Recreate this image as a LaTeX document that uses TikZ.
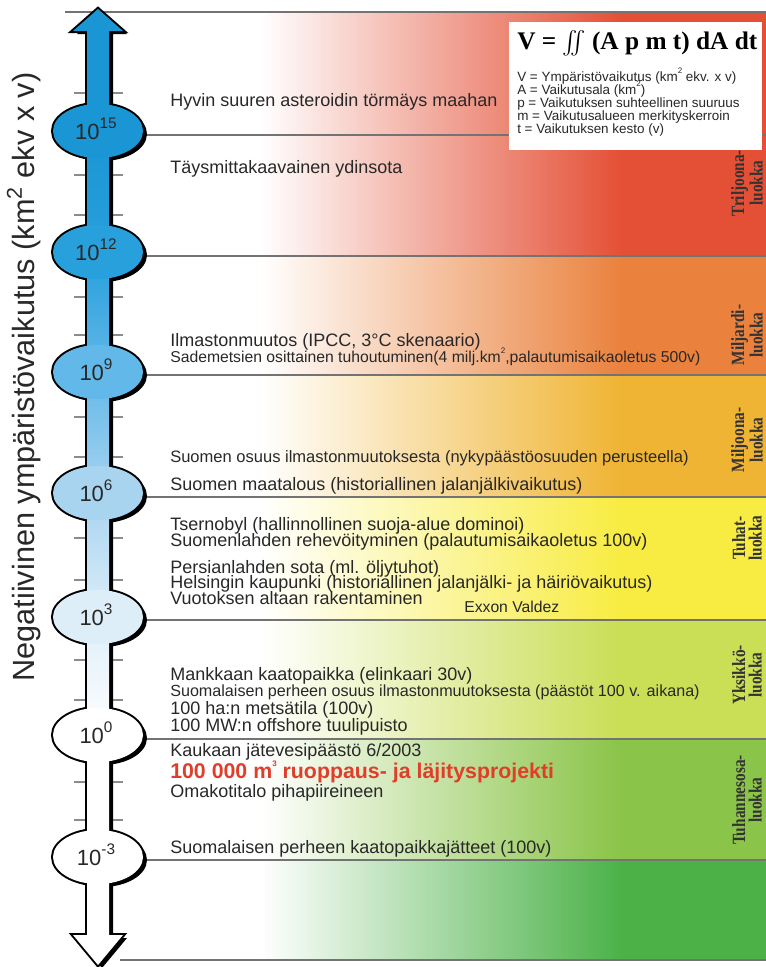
\documentclass[tikz,border=0pt]{standalone}
\usepackage{exscale}
\usepackage{fontspec}
\setmainfont{Liberation Sans}
\newfontfamily\romanfont{Liberation Serif}
\usepackage{graphicx}
\usepackage{tikz}

\definecolor{bandA}{RGB}{228,80,54}
\definecolor{bandB}{RGB}{234,130,62}
\definecolor{bandC}{RGB}{240,180,52}
\definecolor{bandD}{RGB}{248,236,66}
\definecolor{bandE}{RGB}{202,222,86}
\definecolor{bandF}{RGB}{138,196,72}
\definecolor{bandG}{RGB}{76,178,72}
\definecolor{arrowA}{RGB}{26,150,212}
\definecolor{arrowB}{RGB}{40,160,220}
\definecolor{arrowC}{RGB}{98,184,232}
\definecolor{arrowD}{RGB}{168,212,240}
\definecolor{arrowE}{RGB}{222,238,249}
\definecolor{textgray}{RGB}{40,40,40}
\definecolor{projred}{RGB}{224,62,42}

\pgfdeclareverticalshading{arrowfade}{100bp}{color(0bp)=(white); color(37bp)=(white); color(43bp)=(arrowE); color(49.5bp)=(arrowD); color(56bp)=(arrowC); color(62bp)=(arrowB); color(68.5bp)=(arrowA); color(100bp)=(arrowA)}

\newcommand{\decpow}[1]{\raisebox{0.5em}{\fontsize{11.5}{11.5}\selectfont #1}}
\newcommand{\tinysup}[1]{\raisebox{0.55em}{\fontsize{6}{6}\selectfont #1}}
\newcommand{\slim}[1]{\scalebox{0.82}[1]{#1}}
\newcommand{\arrowbody}{(98,9) -- (123,31) -- (109,31) -- (109,935) -- (123,935) -- (98,965) -- (73,935) -- (87,935) -- (87,31) -- (73,31) -- cycle}
\def\levels{131/15/arrowA,252/12/arrowB,372/9/arrowC,493/6/arrowD,617/3/arrowE,735/0/white,857/-3/white}

\begin{document}
\begin{tikzpicture}[x=0.75pt,y=0.75pt,yscale=-1,
  level line/.style={draw=black!55,line width=0.9pt},
  tick line/.style={draw=black!45,line width=0.8pt},
  item/.style={anchor=base west,inner sep=0pt,text=textgray,font=\fontsize{13.5}{14}\selectfont},
  defline/.style={anchor=base west,inner sep=0pt,text=textgray,font=\fontsize{10.1}{10.1}\selectfont},
  classlabel/.style={rotate=90,align=center,inner sep=0pt,text=black!80,font=\romanfont\bfseries\fontsize{14}{12.5}\selectfont},
  exponent/.style={anchor=base,inner sep=0pt,text=textgray,font=\fontsize{16.5}{16.5}\selectfont}]
\useasboundingbox (0,0) rectangle (766,967);

%Colour bands
\foreach \ya/\yb/\c in {12/256/bandA,256/375/bandB,375/497/bandC,497/620/bandD,620/739/bandE,739/860/bandF,860/960/bandG} {
  \shade[left color=white,right color=\c] (260,\ya) rectangle (621,\yb);
  \fill[\c] (620,\ya) rectangle (766,\yb);
}

%Straight Lines
\draw[level line] (65,12) -- (766,12);
\draw[level line] (120,960) -- (766,960);
\foreach \y in {135,256,375,497,620,739,860}
  \draw[level line] (120,\y) -- (766,\y);
\foreach \t in {93,175,215,297,335,417,457,538,580,660,700,782,820}
  \draw[tick line] (74,\t) -- (123,\t);

%Shape: Formula box
\fill[white] (509,22) rectangle (762,150);
% Text Node
\node[anchor=base west,inner sep=0pt,font=\romanfont\bfseries\fontsize{19}{19}\selectfont] (formula) at (517,49) {V = $\int\!\!\!\int$ (A p m t) dA dt};
\node[defline] (defV) at (517,81) {V = Ympäristövaikutus (km\tinysup{2} ekv. x v)};
\node[defline] (defA) at (517,94) {A = Vaikutusala (km\tinysup{2})};
\node[defline] (defp) at (517,107) {p = Vaikutuksen suhteellinen suuruus};
\node[defline] (defm) at (517,120) {m = Vaikutusalueen merkityskerroin};
\node[defline] (deft) at (517,133) {t = Vaikutuksen kesto (v)};

%Shape: Arrow with ellipses
\begin{scope}[shift={(4,3)}]
  \fill[black] \arrowbody;
  \foreach \y/\e/\c in \levels
    \fill[black] (98,\y) ellipse [x radius=45, y radius=27];
\end{scope}
\draw[line width=3pt] \arrowbody;
\foreach \y/\e/\c in \levels
  \draw[line width=3pt] (98,\y) ellipse [x radius=45, y radius=27];
\shade[shading=arrowfade] \arrowbody;
\foreach \y/\e/\c in \levels {
  \fill[\c] (98,\y) ellipse [x radius=45, y radius=27];
  \node[exponent] (pow\e) at (96,\y+8) {10\decpow{\e}};
}

% Text Node
\node[item] (asteroid) at (170,106) {Hyvin suuren asteroidin törmäys maahan};
\node[item] (ydinsota) at (170,173) {Täysmittakaavainen ydinsota};
\node[item] (ipcc) at (170,346) {Ilmastonmuutos (IPCC, 3°C skenaario)};
\node[item,font=\fontsize{11.8}{12}\selectfont] (sademetsa) at (170,362) {Sademetsien osittainen tuhoutuminen(4 milj.km\tinysup{2},palautumisaikaoletus 500v)};
\node[item,font=\fontsize{12.4}{13}\selectfont] (suomiosuus) at (170,462) {Suomen osuus ilmastonmuutoksesta (nykypäästöosuuden perusteella)};
\node[item] (maatalous) at (170,490) {Suomen maatalous (historiallinen jalanjälkivaikutus)};
\node[item] (tsernobyl) at (170,530) {Tsernobyl (hallinnollinen suoja-alue dominoi)};
\node[item] (suomenlahti) at (170,546) {Suomenlahden rehevöityminen (palautumisaikaoletus 100v)};
\node[item] (persia) at (170,573) {Persianlahden sota (ml. öljytuhot)};
\node[item] (helsinki) at (170,588) {Helsingin kaupunki (historiallinen jalanjälki- ja häiriövaikutus)};
\node[item] (vuotos) at (170,604) {Vuotoksen altaan rakentaminen};
\node[item,font=\fontsize{11.8}{12}\selectfont] (exxon) at (464,612) {Exxon Valdez};
\node[item] (mankkaa) at (170,680) {Mankkaan kaatopaikka (elinkaari 30v)};
\node[item,font=\fontsize{12.1}{13}\selectfont] (perhe) at (170,696) {Suomalaisen perheen osuus ilmastonmuutoksesta (päästöt 100 v. aikana)};
\node[item] (metsatila) at (170,714) {100 ha:n metsätila (100v)};
\node[item] (tuulipuisto) at (170,731) {100 MW:n offshore tuulipuisto};
\node[item] (kaukas) at (170,756) {Kaukaan jätevesipäästö 6/2003};
\node[item,text=projred,font=\bfseries\fontsize{16}{17}\selectfont] (ruoppaus) at (170,778) {100 000 m\tinysup{3} ruoppaus- ja läjitysprojekti};
\node[item] (omakoti) at (170,797) {Omakotitalo pihapiireineen};
\node[item] (jatteet) at (170,853) {Suomalaisen perheen kaatopaikkajätteet (100v)};

% Class labels
\node[classlabel] (triljoona) at (747,183) {\slim{Triljoona-}\\\slim{luokka}};
\node[classlabel] (miljardi) at (747,335) {\slim{Miljardi-}\\\slim{luokka}};
\node[classlabel] (miljoona) at (747,440) {\slim{Miljoona-}\\\slim{luokka}};
\node[classlabel] (tuhat) at (747,538) {\slim{Tuhat-}\\\slim{luokka}};
\node[classlabel] (yksikko) at (747,675) {\slim{Yksikkö-}\\\slim{luokka}};
\node[classlabel] (tuhannesosa) at (747,800) {\slim{Tuhannesosa-}\\\slim{luokka}};

% Axis label
\node[rotate=90,anchor=base,inner sep=0pt,text=textgray,font=\fontsize{23}{23}\selectfont] (axislabel) at (34,377) {Negatiivinen ympäristövaikutus (km\textsuperscript{2} ekv x v)};

\end{tikzpicture}
\end{document}
